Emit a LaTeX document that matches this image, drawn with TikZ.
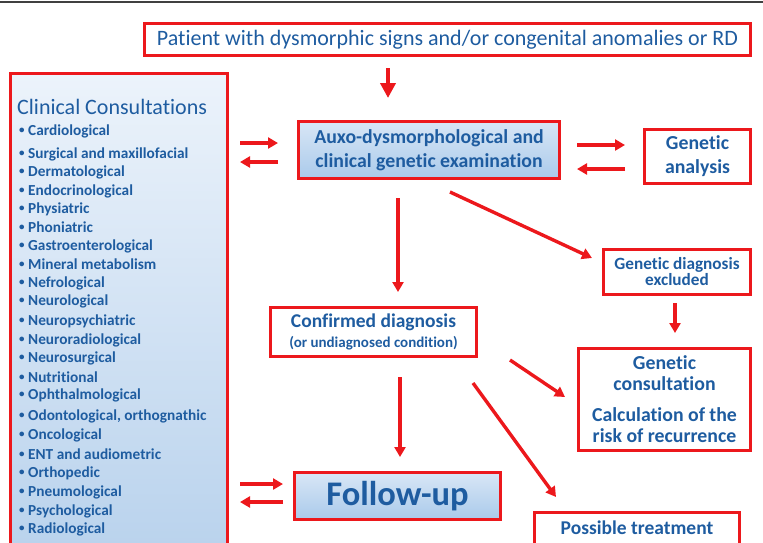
\documentclass[tikz,border=0pt]{standalone}
\usepackage{fontspec}
\setmainfont{Carlito}[Ligatures=NoCommon]
\usetikzlibrary{arrows.meta,calc}
\definecolor{myred}{RGB}{236,24,28}
\definecolor{myblue}{RGB}{30,92,160}
\definecolor{lbA}{RGB}{236,243,251}
\definecolor{lbB}{RGB}{186,211,237}
\definecolor{lbC}{RGB}{170,202,235}
\newcommand{\smallbul}{\makebox[10pt][l]{\hspace{1pt}\raisebox{1.5pt}{\fontsize{11}{11}\selectfont\textbullet}}}
\begin{document}
\begin{tikzpicture}[x=1pt,y=-1pt,
  box/.style={draw=myred, line width=3pt, inner sep=0pt, align=center, text=myblue, font=\bfseries},
  arr/.style={draw=myred, line width=3.4pt, -{Triangle[length=10pt,width=11pt]}},
  bigarr/.style={draw=myred, line width=4.6pt, -{Triangle[length=15pt,width=15pt]}},
  itemtxt/.style={anchor=west, inner sep=0pt, text=myblue, font=\fontsize{15.3}{17}\selectfont\bfseries},
]
\useasboundingbox (0,0) rectangle (763,542);
\draw[black!75, line width=1.3pt] (0,2) -- (763,2);

% nodes
\node[box, font=\fontsize{22}{24}\selectfont, minimum width=606pt, minimum height=32pt] (pat) at (447.5,39.5)
  {Patient with dysmorphic signs and/or congenital anomalies or RD};
\node[box, top color=lbA, bottom color=lbB, minimum width=217pt, minimum height=472pt] (clin) at (119,309) {};
\node[anchor=west, inner sep=0pt, text=myblue, font=\fontsize{22}{24}\selectfont] (ctitle) at (17,107) {Clinical Consultations};
\foreach \yy/\tt in {131/Cardiological, 154/{Surgical and maxillofacial}, 172/Dermatological, 191/Endocrinological,
  209/Physiatric, 227/Phoniatric, 246/Gastroenterological, 264/{Mineral metabolism}, 283/Nefrological,
  301/Neurological, 321/Neuropsychiatric, 340/Neuroradiological, 358/Neurosurgical, 377/Nutritional,
  395/Ophthalmological, 416/{Odontological, orthognathic}, 435/Oncological, 454/{ENT and audiometric},
  473/Orthopedic, 492/Pneumological, 511/Psychological, 529/Radiological}
  \node[itemtxt] (it\yy) at (18,\yy) {\smallbul\tt};

\node[box, top color=lbA!60!lbB, bottom color=lbC, font=\fontsize{19.8}{24}\selectfont\bfseries,
  minimum width=261pt, minimum height=57pt] (aux) at (429,150)
  {Auxo-dysmorphological and\\clinical genetic examination};
\node[box, font=\fontsize{19.8}{24}\selectfont\bfseries, minimum width=106pt, minimum height=54pt] (ga) at (697.5,156.5)
  {Genetic\\analysis};
\node[box, font=\fontsize{17.2}{16}\selectfont\bfseries, minimum width=147pt, minimum height=45pt] (gde) at (677,272)
  {Genetic diagnosis\\excluded};
\node[box, font=\fontsize{19.8}{21}\selectfont\bfseries, minimum width=172pt, minimum height=102pt] (gc) at (664.5,399.5)
  {Genetic\\consultation\\[10pt]Calculation of the\\risk of recurrence};
\node[box, font=\fontsize{19.5}{20}\selectfont\bfseries, minimum width=206pt, minimum height=49pt] (conf) at (373.5,332)
  {Confirmed diagnosis\\{\fontsize{15}{16}\selectfont (or undiagnosed condition)}};
\node[box, top color=lbA!60!lbB, bottom color=lbC, font=\fontsize{34.5}{36}\selectfont\bfseries,
  minimum width=206pt, minimum height=47pt] (fu) at (397.5,496) {Follow-up};
\node[box, font=\fontsize{19.5}{20}\selectfont\bfseries, minimum width=205pt, minimum height=32pt] (pt) at (637,528)
  {Possible treatment};

% connectors
\draw[bigarr] ($(pat.south)+(-59.5,11)$) -- ($(aux.north)+(-41,-22)$);
\draw[arr] ($(clin.east)+(11,-166)$) -- ($(aux.west)+(-19,-7)$);
\draw[arr] ($(aux.west)+(-19,12)$) -- ($(clin.east)+(11,-147)$);
\draw[arr] ($(aux.east)+(16,-5)$) -- ($(ga.west)+(-18,-11.5)$);
\draw[arr] ($(ga.west)+(-18,12.5)$) -- ($(aux.east)+(16,19)$);
\draw[arr] ($(aux.south)+(-31,18)$) -- ($(conf.north)+(24.5,-14)$);
\draw[arr] ($(aux.south)+(21,12)$) -- ($(gde.west)+(-10,-14)$);
\draw[arr] ($(gde.south)+(-2,7)$) -- ($(gc.north)+(10.5,-14)$);
\draw[arr] ($(conf.east)+(32,28)$) -- ($(gc.west)+(-12,-2.5)$);
\draw[arr] ($(conf.south)+(26.5,19)$) -- ($(fu.north)+(2.5,-14)$);
\draw[arr] ($(conf.south)+(99.5,25)$) -- ($(pt.north)+(-81,-13.5)$);
\draw[arr] ($(clin.east)+(11,175)$) -- ($(fu.west)+(-10,-12)$);
\draw[arr] ($(fu.west)+(-10,6)$) -- ($(clin.east)+(11,193)$);
\end{tikzpicture}
\end{document}
